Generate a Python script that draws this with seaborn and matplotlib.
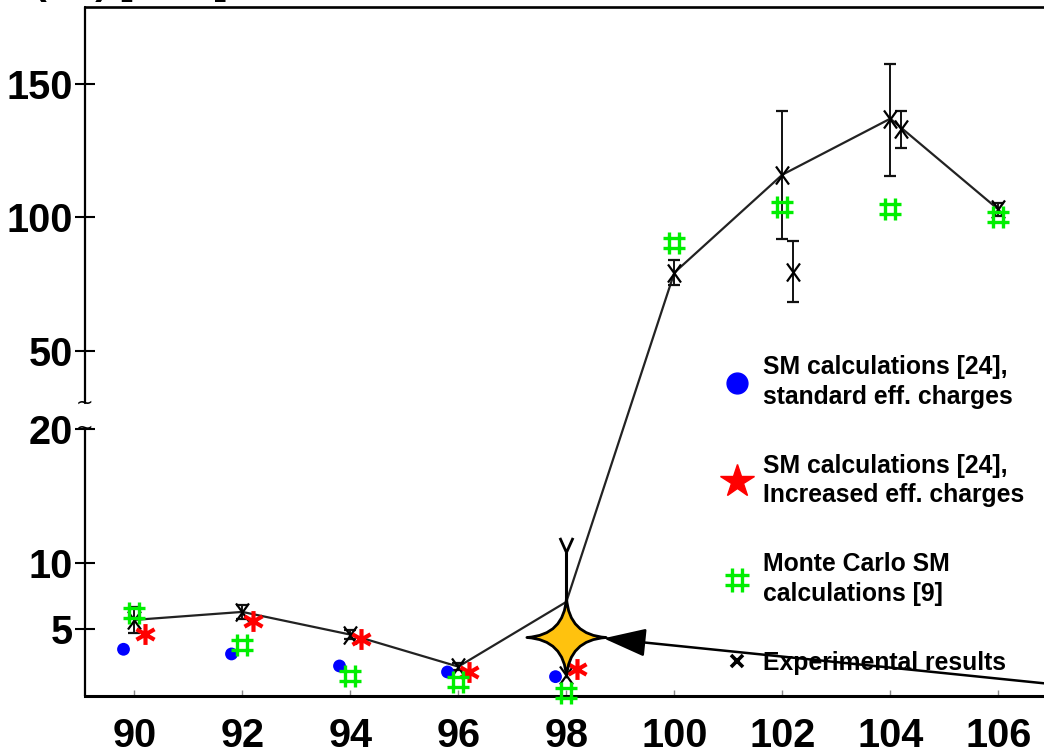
import numpy as np
import matplotlib
matplotlib.use("Agg")
import matplotlib.pyplot as plt
from matplotlib.path import Path
from matplotlib.lines import Line2D
import seaborn as sns

# ---------------- data ----------------
mass_number = [90, 92, 94, 96, 98, 100, 102, 104, 106]
sm_mass = [90, 92, 94, 96, 98]
sm_standard = [3.5, 3.15, 2.25, 1.8, 1.45]
sm_increased = [4.65, 5.6, 4.3, 1.8, 2.05]
monte_carlo = [6.25, 3.8, 1.5, 1.05, 0.2, 90.5, 104.0, 103.0, 100.3]
exp_value = [5.7, 6.3, 4.6, 2.2, 7.05, 79.3, 116.0, 137.0, 103.0]
exp_err_low = [1.0, 0.55, 0.35, 0.25, 5.5, 4.7, 24.0, 21.5, 2.5]
exp_err_high = [1.0, 0.55, 0.35, 0.25, 3.75, 4.7, 24.0, 20.5, 2.5]
exp_limit_mass = 98            # point shown as a range with marker at its lower end
exp_extra_mass = [102, 104]
exp_extra_value = [79.7, 133.0]
exp_extra_err = [11.4, 7.0]
this_work_mass = [98]
this_work_value = [4.4]
arrow_tip = (98.69, 4.32)
arrow_tail = (107.6, 0.64)
x_ticks = [90, 92, 94, 96, 98, 100, 102, 104, 106]
y_ticks = [5, 10, 20, 50, 100, 150]
legend_labels = [
    "SM calculations [24],\nstandard eff. charges",
    "SM calculations [24],\nIncreased eff. charges",
    "Monte Carlo SM\ncalculations [9]",
    "Experimental results",
]
y_label = "B(E2) [W.u.]"

# ---------------- styling ----------------
sns.set_theme(style="white")
FONT = "Liberation Sans"
plt.rcParams["font.family"] = [FONT, "DejaVu Sans"]
plt.rcParams["text.color"] = "black"
plt.rcParams["xtick.color"] = "black"
plt.rcParams["ytick.color"] = "black"

DPI = 100
W, H = 1044, 754
fig = plt.figure(figsize=(W / DPI, H / DPI), dpi=DPI)
ax = fig.add_axes([85 / W, (H - 696) / H, (W - 85) / W, (696 - 7.3) / H])

# broken y axis: piecewise-linear scale
bp_v = np.array([-1000.0, 0.0, 20.1, 30.5, 178.7, 5000.0])
bp_t = np.array([-13350.0, 0.0, 268.3, 293.0, 688.7, 688.7 + (5000 - 178.7) * 2.67])


def fwd(v):
    return np.interp(np.asarray(v, float), bp_v, bp_t)


def inv(t):
    return np.interp(np.asarray(t, float), bp_t, bp_v)


ax.set_yscale("function", functions=(fwd, inv))
ax.set_xlim(89.087, 106.846)
ax.set_ylim(0, 178.7)

# marker shapes
hash_marker = Path(
    [(-0.22, -0.5), (-0.22, 0.5), (0.22, -0.5), (0.22, 0.5),
     (-0.5, -0.22), (0.5, -0.22), (-0.5, 0.22), (0.5, 0.22)],
    [Path.MOVETO, Path.LINETO] * 4)
c30, s30 = np.cos(np.pi / 6), np.sin(np.pi / 6)
asterisk_marker = Path(
    [(0, -1), (0, 1), (-c30, -s30), (c30, s30), (-c30, s30), (c30, -s30)],
    [Path.MOVETO, Path.LINETO] * 3)
x_marker = Path([(-0.36, -0.5), (0.36, 0.5), (-0.36, 0.5), (0.36, -0.5)],
                [Path.MOVETO, Path.LINETO] * 2)
fork_marker = Path([(-0.45, 1.0), (0, 0), (0.45, 1.0)],
                   [Path.MOVETO, Path.LINETO, Path.LINETO])
c = 0.06
star4_marker = Path(
    [(0, 1), (c, c), (1, 0), (c, -c), (0, -1), (-c, -c), (-1, 0), (-c, c), (0, 1), (0, 1)],
    [Path.MOVETO] + [Path.CURVE3] * 8 + [Path.CLOSEPOLY])

sm_x = np.array(sm_mass, float)
mass = np.array(mass_number, float)

# experimental line
sns.lineplot(x=mass_number, y=exp_value, color="#222222", lw=1.6, ax=ax,
             sort=False, zorder=2, legend=False)

# experimental error bars
normal = mass != exp_limit_mass
ax.errorbar(mass[normal], np.array(exp_value)[normal],
            yerr=[np.array(exp_err_low)[normal], np.array(exp_err_high)[normal]],
            fmt="none", ecolor="#111111", elinewidth=1.4, capsize=4.5, capthick=1.6, zorder=3)
ax.errorbar(np.array(exp_extra_mass) + 0.2, exp_extra_value, yerr=exp_extra_err,
            fmt="none", ecolor="#111111", elinewidth=1.4, capsize=4.5, capthick=1.6, zorder=3)
lim = ~normal
lim_low = np.array(exp_value)[lim] - np.array(exp_err_low)[lim]
lim_high = np.array(exp_value)[lim] + np.array(exp_err_high)[lim]
ax.vlines(mass[lim], lim_low, lim_high, color="black", lw=2.2, zorder=3)
ax.plot(mass[lim], lim_high, ls="none", marker=fork_marker, ms=21, mfc="none",
        mec="black", mew=2.0, zorder=3)

# experimental markers
exp_mark_y = np.where(normal, exp_value, np.array(exp_value) - np.array(exp_err_low))
ax.plot(mass, exp_mark_y, ls="none", marker=x_marker, ms=13, mfc="none",
        mec="black", mew=1.6, zorder=4)
ax.plot(np.array(exp_extra_mass) + 0.2, exp_extra_value, ls="none", marker=x_marker,
        ms=13, mfc="none", mec="black", mew=1.6, zorder=4)

# SM standard (blue dots)
sns.scatterplot(x=sm_x - 0.2, y=sm_standard, color="#0000ff", s=85,
                edgecolor="none", ax=ax, zorder=4, legend=False)
# SM increased (red asterisks)
ax.plot(sm_x + 0.2, sm_increased, ls="none", marker=asterisk_marker, ms=15,
        mfc="none", mec="#ff0000", mew=3.0, zorder=4)
# Monte Carlo (green hashes)
ax.plot(mass, monte_carlo, ls="none", marker=hash_marker, ms=15.5, mfc="none",
        mec="#00ee00", mew=2.4, zorder=4, clip_on=False)

# this work (gold star) and arrow
ax.plot(this_work_mass, this_work_value, ls="none", marker=star4_marker, ms=57,
        mfc="#ffc20e", mec="black", mew=2.0, zorder=6)
ax.annotate("", xy=arrow_tip, xytext=arrow_tail, annotation_clip=False,
            arrowprops=dict(arrowstyle="-|>,head_length=0.6,head_width=0.2",
                            mutation_scale=44, color="black", lw=1.8,
                            shrinkA=0, shrinkB=0), zorder=7)

# axes, spines, ticks
for side in ["left", "right"]:
    ax.spines[side].set_visible(False)
ax.spines["top"].set_linewidth(1.9)
ax.spines["top"].set_color("black")
ax.spines["bottom"].set_linewidth(2.2)
ax.spines["bottom"].set_color("black")
yt = ax.get_yaxis_transform()
ax.plot([0, 0], [0, 20.1], transform=yt, color="black", lw=1.6, clip_on=False, zorder=5)
ax.plot([0, 0], [30.5, 178.7], transform=yt, color="black", lw=1.6, clip_on=False, zorder=5)
for v in (20.1, 30.5):
    ax.text(0, v, "~", transform=yt, ha="center", va="center", fontsize=15,
            family="DejaVu Sans", color="black", clip_on=False)

ax.set_xticks(x_ticks)
ax.set_xticklabels([str(t) for t in x_ticks])
ax.set_yticks(y_ticks)
ax.set_yticklabels([str(t) for t in y_ticks])
ax.yaxis.set_minor_locator(matplotlib.ticker.NullLocator())
ax.tick_params(axis="y", direction="inout", length=14, width=1.5, pad=1.7,
               labelsize=28.5, colors="black", left=True)
ax.tick_params(axis="x", direction="in", length=4, width=1.0, pad=15,
               labelsize=28.5, color="#888888", labelcolor="black", bottom=True)
for lab in ax.get_xticklabels() + ax.get_yticklabels():
    lab.set_fontweight("bold")
ax.grid(False)

# y label (cut off at the top edge as in the reference)
fig.text(0.005, 1 + 6 / H, y_label, fontsize=28.5, fontweight="bold", va="baseline", ha="left")

# legend
handles = [
    Line2D([], [], ls="none", marker="o", ms=15, mfc="#0000ff", mec="#0000ff"),
    Line2D([], [], ls="none", marker="*", ms=25, mfc="#ff0000", mec="#ff0000"),
    Line2D([], [], ls="none", marker=hash_marker, ms=17, mfc="none", mec="#00ee00", mew=2.4),
    Line2D([], [], ls="none", marker="x", ms=9, mec="black", mew=2.6),
]
leg = ax.legend(handles, legend_labels, loc="upper left",
                bbox_to_anchor=(725 / W, 1 - 355 / H), bbox_transform=fig.transFigure,
                frameon=False, prop=dict(family=[FONT, "DejaVu Sans"], weight="bold", size=17.8),
                labelcolor="black", labelspacing=1.82, handlelength=1.0, handletextpad=0.55,
                borderpad=0, borderaxespad=0)
for t in leg.get_texts():
    t.set_linespacing(1.3)

fig.savefig("out.png", dpi=DPI)
